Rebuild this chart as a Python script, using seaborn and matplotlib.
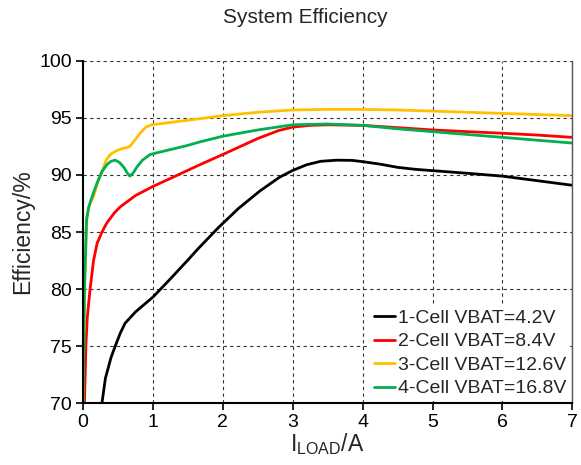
import matplotlib
matplotlib.use("Agg")
import matplotlib.pyplot as plt
import seaborn as sns
import pandas as pd

# efficiency curves (I_LOAD in A, efficiency in %)
x_1cell = [0.27, 0.32, 0.4, 0.46, 0.53, 0.6, 0.75, 1.0, 1.25, 1.5, 1.64, 1.93, 2.22, 2.53, 2.81, 3.0, 3.2, 3.4, 3.63, 3.85, 4.0, 4.25, 4.5, 4.75, 5.0, 5.5, 6.0, 6.5, 7.0]
y_1cell = [70.0, 72.2, 74.0, 75.0, 76.1, 77.0, 78.0, 79.3, 80.9, 82.55, 83.5, 85.35, 87.05, 88.6, 89.8, 90.4, 90.9, 91.2, 91.3, 91.28, 91.17, 90.95, 90.67, 90.5, 90.38, 90.15, 89.9, 89.5, 89.1]

x_2cell = [0.02, 0.04, 0.06, 0.1, 0.15, 0.2, 0.27, 0.34, 0.45, 0.53, 0.75, 1.0, 1.25, 1.67, 2.0, 2.5, 2.8, 3.0, 3.25, 3.5, 4.0, 4.5, 5.0, 5.5, 6.0, 6.5, 7.0]
y_2cell = [70.0, 75.0, 77.5, 80.0, 82.5, 84.0, 85.0, 85.8, 86.7, 87.2, 88.2, 89.0, 89.7, 90.9, 91.8, 93.2, 93.9, 94.2, 94.35, 94.4, 94.35, 94.15, 93.95, 93.8, 93.66, 93.5, 93.3]

x_3cell = [0.0, 0.02, 0.05, 0.1, 0.15, 0.2, 0.27, 0.33, 0.39, 0.47, 0.55, 0.62, 0.67, 0.72, 0.82, 0.9, 0.98, 1.5, 2.0, 2.5, 3.0, 3.5, 4.0, 4.5, 5.0, 5.5, 6.0, 6.5, 7.0]
y_3cell = [70.0, 80.0, 86.3, 87.5, 88.1, 89.2, 90.3, 91.3, 91.8, 92.1, 92.3, 92.4, 92.5, 92.9, 93.7, 94.2, 94.4, 94.8, 95.2, 95.5, 95.7, 95.75, 95.75, 95.7, 95.6, 95.5, 95.4, 95.3, 95.2]

x_4cell = [0.0, 0.02, 0.05, 0.08, 0.14, 0.2, 0.27, 0.34, 0.4, 0.46, 0.52, 0.58, 0.63, 0.67, 0.72, 0.77, 0.85, 0.96, 1.5, 1.67, 2.0, 2.5, 3.0, 3.5, 4.0, 4.5, 5.0, 5.5, 6.0, 6.5, 7.0]
y_4cell = [70.0, 80.0, 86.0, 87.2, 88.3, 89.3, 90.3, 90.9, 91.2, 91.3, 91.1, 90.7, 90.2, 89.9, 90.2, 90.7, 91.3, 91.8, 92.6, 92.9, 93.4, 93.95, 94.4, 94.47, 94.35, 94.05, 93.8, 93.55, 93.3, 93.05, 92.8]

labels = ["1-Cell VBAT=4.2V", "2-Cell VBAT=8.4V", "3-Cell VBAT=12.6V", "4-Cell VBAT=16.8V"]
colors = ["#000000", "#FF0000", "#FFC000", "#00B050"]

xs = [x_1cell, x_2cell, x_3cell, x_4cell]
ys = [y_1cell, y_2cell, y_3cell, y_4cell]

frames = []
for lab, xv, yv in zip(labels, xs, ys):
    frames.append(pd.DataFrame({"iload": xv, "eff": yv, "cell": lab}))
df = pd.concat(frames, ignore_index=True)

sns.set_style("white")
plt.rcParams["font.family"] = ["Liberation Sans", "DejaVu Sans"]
plt.rcParams["mathtext.fontset"] = "custom"
plt.rcParams["mathtext.rm"] = "Liberation Sans"

fig = plt.figure(figsize=(5.81, 4.65), dpi=100)
ax = fig.add_axes([0.143, 0.133, 0.842, 0.736])

sns.lineplot(data=df, x="iload", y="eff", hue="cell", hue_order=labels,
             palette=colors, sort=False, estimator=None, linewidth=2, ax=ax)

ax.set_xlim(0, 7)
ax.set_ylim(70, 100)
ax.set_xticks(range(0, 8))
ax.set_yticks(range(70, 101, 5))
ax.grid(True, color="#333333", linestyle=(0, (3, 3)), linewidth=0.8)
ax.set_axisbelow(True)

for s in ["left", "bottom"]:
    ax.spines[s].set_color("black")
    ax.spines[s].set_linewidth(1.5)
ax.spines["top"].set_visible(False)
ax.spines["right"].set_color("#555555")
ax.spines["right"].set_linewidth(1.0)
ax.tick_params(axis="both", direction="out", length=5, width=1.2, labelsize=14,
               bottom=True, left=True, colors="black", pad=3)

ax.set_xlabel(r"I$_{\mathrm{LOAD}}$/A", fontsize=16.5, labelpad=0)
ax.set_ylabel("Efficiency/%", fontsize=16.5, labelpad=4)
fig.text(0.525, 0.962, "System Efficiency", fontsize=15, ha="center", va="center")

leg = ax.legend(loc="lower right", fontsize=14, handlelength=1.1, handletextpad=0.15,
                labelspacing=0.3, borderaxespad=0.1, borderpad=0.2, frameon=True,
                fancybox=False)
leg.get_frame().set_facecolor("white")
leg.get_frame().set_edgecolor("none")
leg.get_frame().set_alpha(1)

fig.savefig("out.png", dpi=100)
